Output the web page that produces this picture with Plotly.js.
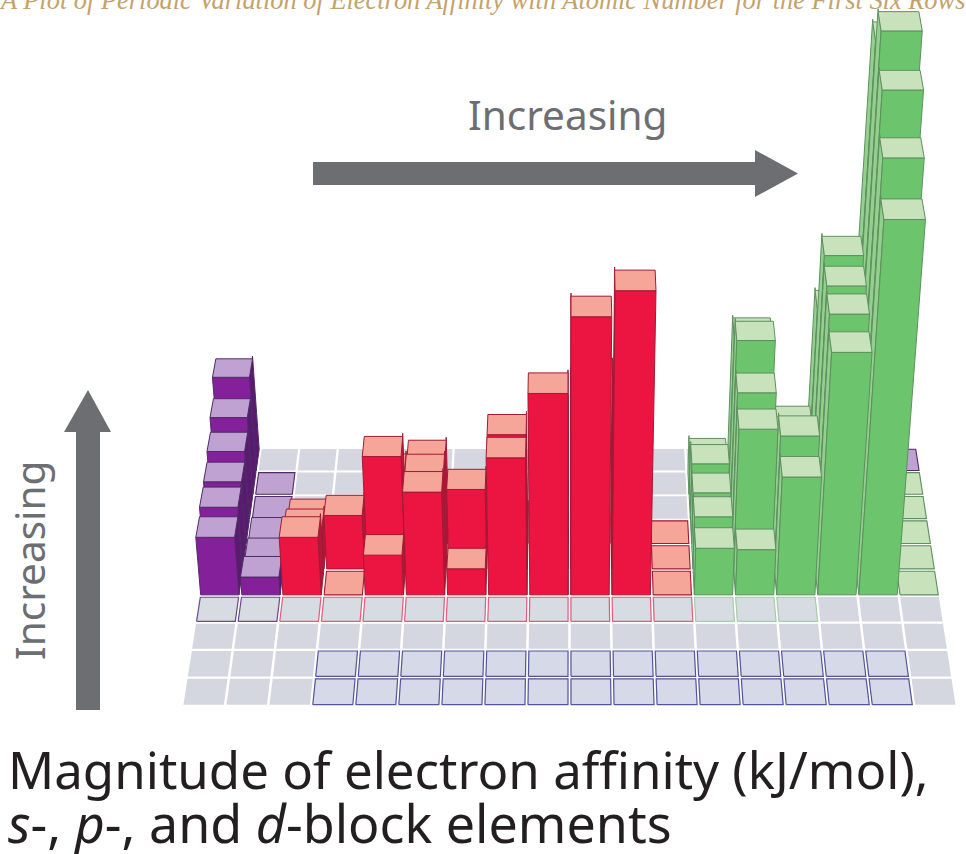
<!DOCTYPE html>
<html><head><meta charset="utf-8">
<script src="https://cdn.plot.ly/plotly-3.0.1.min.js"></script>
<style>html,body{margin:0;padding:0;background:#fff;overflow:hidden}#c{width:966px;height:854px}</style>
</head><body><div id="c"></div>
<script>
// Magnitude of electron affinity (kJ/mol). null = no bar on that floor cell.
const period1 = [68,null,null,null,null,null,null,null,null,null,null,null,null,null,null,null,null,0];
const period2 = [56,0,null,null,null,null,null,null,null,null,null,null,27,115,0,135,331,0];
const period3 = [49,0,null,null,null,null,null,null,null,null,null,null,40,130,68,192,356,0];
const period4 = [45,3,18,8,51,61,0,15,64,112,119,0,37,110,78,188,331,0];
const period5 = [45,7,29,39,82,69,58,98,110,54,126,0,38,102,97,186,300,0];
const period6 = [42,13,42,0,29,75,19,100,147,203,222,0,34,33,86,177,274,0];
const periods = [period1,period2,period3,period4,period5,period6];
const symbols1 = ['H','','','','','','','','','','','','','','','','','He'];
const symbols2 = ['Li','Be','','','','','','','','','','','B','C','N','O','F','Ne'];
const symbols3 = ['Na','Mg','','','','','','','','','','','Al','Si','P','S','Cl','Ar'];
const symbols4 = ['K','Ca','Sc','Ti','V','Cr','Mn','Fe','Co','Ni','Cu','Zn','Ga','Ge','As','Se','Br','Kr'];
const symbols5 = ['Rb','Sr','Y','Zr','Nb','Mo','Tc','Ru','Rh','Pd','Ag','Cd','In','Sn','Sb','Te','I','Xe'];
const symbols6 = ['Cs','Ba','La','Hf','Ta','W','Re','Os','Ir','Pt','Au','Hg','Tl','Pb','Bi','Po','At','Rn'];
const symbols = [symbols1,symbols2,symbols3,symbols4,symbols5,symbols6];

const titleTop = 'A Plot of Periodic Variation of Electron Affinity with Atomic Number for the First Six Rows';
const line1 = 'Magnitude of electron affinity (kJ/mol),';
const line2 = '<i>s</i>-, <i>p</i>-, and <i>d</i>-block elements';
const styles = {
  s:{front:'#84209a',side:'#591a70',top:'#bfa2d2',line:'#4f2a66'},
  d:{front:'#ec1440',side:'#b5173a',top:'#f6a698',line:'#a11a35'},
  p:{front:'#6cc56d',side:'#93d08e',top:'#c8e2bc',line:'#5e8f60'}
};
const floorColor = '#d4d7df';

// Projection of (column, depth, height) on to the page
const CX=569.5, HY=-1786, Y0=706, CW=43.06, K=0.01154, LEAN=0.00023, PX=1.37;
const sc = d => 1/(1+K*d);
const fy = d => HY+(Y0-HY)*sc(d);
function P(c,d,z){ return [CX+(c-9)*CW*sc(d)*(1+LEAN*z), fy(d)-z]; }
function poly(pts,fill,line,lw,text){
  const x=pts.map(p=>p[0]).concat(pts[0][0]), y=pts.map(p=>p[1]).concat(pts[0][1]);
  return {type:'scatter',mode:'lines',x,y,fill:'toself',fillcolor:fill,
    line:{color:line,width:lw},hoverinfo:text?'text':'skip',text:text||'',hoveron:'fills',showlegend:false};
}
const IC=0.035, ID=0.045;
function topFace(c,d,z,fill,line,lw,text){
  const dd=(fy(d+ID)-fy(d+1-ID))*(1-0.13*Math.min(1,z/15));
  const a=P(c+IC,d+ID,z), b=P(c+1-IC,d+ID,z);
  const e=P(c+1-IC,d+1-ID,z), f=P(c+IC,d+1-ID,z);
  e[1]=a[1]-dd; f[1]=a[1]-dd;
  return poly([a,b,e,f],fill,line,lw,text);
}
const traces=[];
// floor
const fx=[],fyy=[];
for(let d=0;d<10;d++)for(let c=0;c<18;c++){
  const q=[P(c+.03,d+.04,0),P(c+.97,d+.04,0),P(c+.97,d+.96,0),P(c+.03,d+.96,0)];
  q.concat([q[0]]).forEach(p=>{fx.push(p[0]);fyy.push(p[1]);});
  fx.push(null);fyy.push(null);
}
traces.push({type:'scatter',mode:'lines',x:fx,y:fyy,fill:'toself',fillcolor:floorColor,line:{width:0,color:floorColor},hoverinfo:'skip',showlegend:false});
// outlined empty cells in front of the bars
const period7Cols=[0,1,2,3,4,5,6,7,8,9,10,11,12,13,14];
period7Cols.forEach(c=>{
  const col=c<2?'#6d4a8c':c<12?'#e85a7c':'#a8cca8';
  traces.push(topFace(c,3,0,'rgba(214,220,226,1)',col,1.2));
});
const fBlockCols=[3,4,5,6,7,8,9,10,11,12,13,14,15,16];
[0,1].forEach(d=>fBlockCols.forEach(c=>traces.push(topFace(c,d,0,'#d6d9e8','#54549c',1.2))));
// bars, back row first, outer columns first in every row
const order=[0,17,1,16,2,15,3,14,4,13,5,12,6,11,7,10,8,9];
periods.forEach((row,ri)=>{
  const d=9-ri;
  order.forEach(c=>{
    const v=row[c]; if(v===null) return;
    const st = (c<2||(ri===0&&c===17))?styles.s:(c<12?styles.d:styles.p);
    const label=symbols[ri][c]+': '+v+' kJ/mol';
    const z=v*PX;
    if(v===0){ traces.push(topFace(c,d,0,st.top,st.line,1.1,label)); return; }
    const l=c+IC,r=c+1-IC,df=d+ID,db=d+1-ID;
    if(c<9) traces.push(poly([P(r,df,0),P(r,db,0),P(r,db,z),P(r,df,z)],st.side,st.line,1));
    else    traces.push(poly([P(l,df,0),P(l,db,0),P(l,db,z),P(l,df,z)],st.side,st.line,1));
    traces.push(poly([P(l,df,0),P(r,df,0),P(r,df,z),P(l,df,z)],st.front,st.line,1,label));
    traces.push(topFace(c,d,z,st.top,st.line,1,label));
  });
});
const gray='#6d6e71';
const layout={
  width:966,height:854,margin:{l:0,r:0,t:0,b:0},paper_bgcolor:'#fff',plot_bgcolor:'#fff',showlegend:false,
  xaxis:{range:[0,966],visible:false,fixedrange:true},
  yaxis:{range:[854,0],visible:false,fixedrange:true},
  shapes:[
    {type:'path',path:'M313,162 L755,162 L755,150 L798,173.5 L755,197 L755,185 L313,185 Z',fillcolor:gray,line:{width:0}},
    {type:'path',path:'M76,710 L76,432 L64,432 L88,390 L111,432 L100,432 L100,710 Z',fillcolor:gray,line:{width:0}}
  ],
  annotations:[
    {text:'<i>'+titleTop+'</i>',x:482,y:0,xref:'x',yref:'y',xanchor:'center',yanchor:'middle',showarrow:false,
     font:{family:'Liberation Serif',size:26.4,color:'#c4a26c'}},
    {text:'Increasing',x:567,y:114,xref:'x',yref:'y',xanchor:'center',yanchor:'middle',showarrow:false,
     font:{family:'Noto Sans',size:40.5,color:gray}},
    {text:'Increasing',x:29,y:561,xref:'x',yref:'y',xanchor:'center',yanchor:'middle',showarrow:false,textangle:-90,
     font:{family:'Noto Sans',size:40.5,color:gray}},
    {text:line1,x:6,y:769,xref:'x',yref:'y',xanchor:'left',yanchor:'middle',showarrow:false,
     font:{family:'Noto Sans',size:51,color:'#231f20'}},
    {text:line2,x:6,y:822,xref:'x',yref:'y',xanchor:'left',yanchor:'middle',showarrow:false,
     font:{family:'Noto Sans',size:52,color:'#231f20'}}
  ]
};
Plotly.newPlot('c',traces,layout,{displayModeBar:false});
</script></body></html>
